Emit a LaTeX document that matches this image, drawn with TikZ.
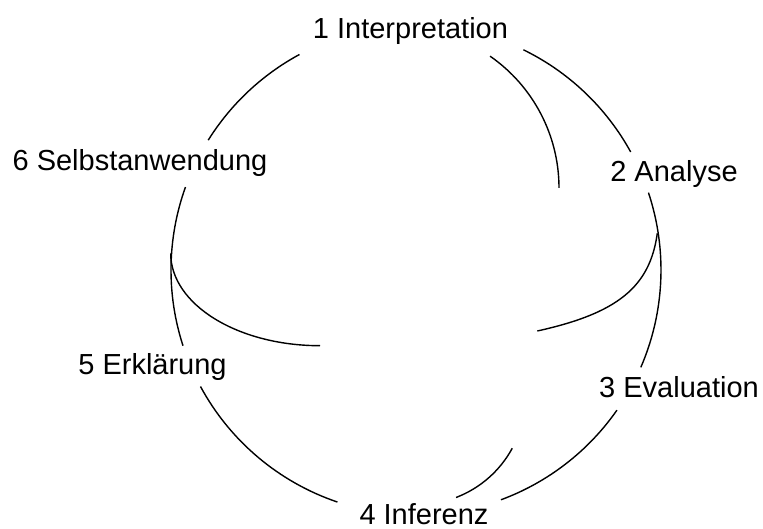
\documentclass[tikz,border=0pt]{standalone}
\usepackage{fontspec}
\setmainfont{Liberation Sans}
\usetikzlibrary{calc}
\begin{document}
\begin{tikzpicture}[x=1pt,y=1pt,
  lbl/.style={font=\fontsize{29}{34}\selectfont, inner sep=0pt, anchor=base},
  ring/.style={line width=1.4pt, black},
  inner/.style={line width=1.4pt, black}]
\useasboundingbox (0,0) rectangle (763,529);
% labels
\node[lbl] (n1) at (410.5,490) {1 Interpretation};
\node[lbl] (n2) at (674,347) {2 Analyse};
\node[lbl] (n3) at (679,131) {3 Evaluation};
\node[lbl] (n4) at (424,4.5) {4 Inferenz};
\node[lbl] (n5) at (152.5,154) {5 Erklärung};
\node[lbl] (n6) at (140,358) {6 Selbstanwendung};
% ring centre
\coordinate (O) at (416,259);
% outer arcs (clockwise)
\coordinate (o12) at ($(O)+(64:245pt)$);
\coordinate (o23) at ($(O)+(18.4:245pt)$);
\coordinate (o34) at ($(O)+(-34.9:245pt)$);
\coordinate (o45) at ($(O)+(-108.7:245pt)$);
\coordinate (o56) at ($(O)+(198:245pt)$);
\coordinate (o61) at ($(O)+(148:245pt)$);
\draw[ring] (o12) arc[start angle=64, end angle=28.8, radius=245pt];
\draw[ring] (o23) arc[start angle=18.4, end angle=-23.4, radius=245pt];
\draw[ring] (o34) arc[start angle=-34.9, end angle=-69.7, radius=245pt];
\draw[ring] (o45) arc[start angle=-108.7, end angle=-151.6, radius=245pt];
\draw[ring] (o56) arc[start angle=198, end angle=160.2, radius=245pt];
\draw[ring] (o61) arc[start angle=148, end angle=118.4, radius=245pt];
% inner arcs
\coordinate (ia) at (490.1,472.8);
\draw[inner] (ia) arc[start angle=55.2, end angle=0, radius=160.5pt];
\coordinate (ib) at (657.3,295.7);
\coordinate (ibe) at (537.3,198);
\draw[inner] (ib) .. controls (649.9,242) and (617.5,215.7) .. (ibe);
\coordinate (ic) at ($(417.6,132.1)+(-28.5:107.7pt)$);
\draw[inner] (ic) arc[start angle=-28.5, end angle=-69.1, radius=107.7pt];
\coordinate (id) at (170.7,275.7);
\draw[inner] (id) arc[start angle=180, end angle=270, x radius=149.3pt, y radius=92.4pt];
\end{tikzpicture}
\end{document}
